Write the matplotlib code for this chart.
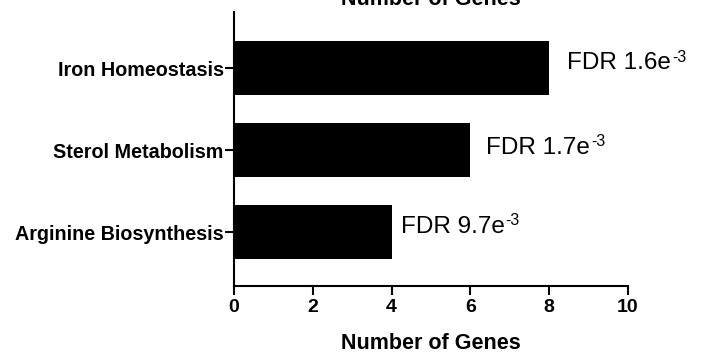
import matplotlib.pyplot as plt

plt.rcParams['font.family'] = ['Liberation Sans', 'DejaVu Sans']

categories = ['Arginine Biosynthesis', 'Sterol Metabolism', 'Iron Homeostasis']
genes = [4, 6, 8]
fdr_base = ['FDR 9.7e', 'FDR 1.7e', 'FDR 1.6e']
fdr_exp = ['-3', '-3', '-3']
xticks = [0, 2, 4, 6, 8, 10]

fig = plt.figure(figsize=(7.05, 3.56), dpi=100)
ax = fig.add_axes([234/705, 1 - 286/356, 394/705, 274/356])

ypos = list(range(len(categories)))
ax.barh(ypos, genes, height=0.66, color='black')

# label offsets in pixels (x, y)
offs = [(9, 5), (16, 2), (18, 5)]
for y, g, base, ex, (ox, oy) in zip(ypos, genes, fdr_base, fdr_exp, offs):
    t = ax.annotate(base, (g, y), xytext=(ox * 0.72, oy * 0.72),
                    textcoords='offset points', ha='left', va='center',
                    fontsize=17.5)
    ax.annotate(ex, xy=(1, 1), xycoords=t, xytext=(0.5, 2),
                textcoords='offset points', ha='left', va='top',
                fontsize=11.5)

ax.set_xlim(0, 10)
ax.set_ylim(-0.66, 2.69)
ax.set_xticks(xticks)
ax.set_xticklabels([str(t) for t in xticks], fontsize=14, fontweight='bold')
ax.set_yticks(ypos)
ax.set_yticklabels(categories, fontsize=14.2, fontweight='bold')
ax.tick_params(axis='both', direction='out', length=6.5, width=1.5)
ax.tick_params(axis='x', pad=3)
ax.tick_params(axis='y', pad=1)
ax.set_xlabel('Number of Genes', fontsize=15.5, fontweight='bold', labelpad=12)

for s in ['top', 'right']:
    ax.spines[s].set_visible(False)
for s in ['left', 'bottom']:
    ax.spines[s].set_linewidth(1.5)

fig.text(431/705, 1 - 5/356, 'Number of Genes', ha='center', va='baseline',
         fontsize=15.5, fontweight='bold')

fig.savefig('out.png', dpi=100)
